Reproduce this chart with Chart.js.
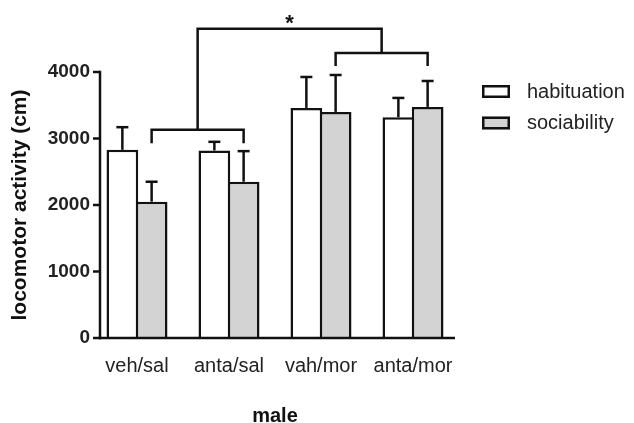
<!DOCTYPE html>
<html>
<head>
<meta charset="utf-8">
<script src="https://cdn.jsdelivr.net/npm/chart.js@4/dist/chart.umd.min.js"></script>
<style>
  html, body { margin: 0; padding: 0; background: #fff; }
  canvas { display: block; }
</style>
</head>
<body>
<canvas id="c" width="634" height="423"></canvas>
<script>
// locomotor activity, male — habituation vs sociability

const groups = ['veh/sal', 'anta/sal', 'vah/mor', 'anta/mor'];
const seriesNames = ['habituation', 'sociability'];
const habMean = [2830, 2820, 3460, 3320];
const habSem = [340, 130, 465, 290];
const socMean = [2050, 2350, 3400, 3475];
const socSem = [300, 460, 555, 390];
const yTicks = [0, 1000, 2000, 3000, 4000];

// comparison brackets, in cm (line level, end of the down ticks)
const pairLow = [3130, 2930];   // veh/sal vs anta/sal
const pairHigh = [4285, 4090];  // vah/mor vs anta/mor
const topLine = 4650;
const starLevel = 4790;

const ink = '#111';
const grey = '#d3d3d3';
Chart.defaults.font.family = "'Liberation Sans', Arial, sans-serif";
Chart.defaults.color = '#222';

// ── axes, error bars, brackets, legend ────────────────────
const decor = {
  id: 'decor',
  afterDatasetsDraw(chart) {
    const { ctx, chartArea: a, scales: { y } } = chart;
    const ax = a.left + 9, ar = a.right - 4;
    const line = (x1, y1, x2, y2) => { ctx.beginPath(); ctx.moveTo(x1, y1); ctx.lineTo(x2, y2); ctx.stroke(); };
    ctx.save();
    ctx.strokeStyle = ink;
    ctx.lineWidth = 2.5;

    // error bars (upper only)
    [[habMean, habSem], [socMean, socSem]].forEach(([means, sem], di) => {
      chart.getDatasetMeta(di).data.forEach((bar, i) => {
        const top = y.getPixelForValue(means[i] + sem[i]);
        line(bar.x, bar.y, bar.x, top);
        line(bar.x - 6, top, bar.x + 6, top);
      });
    });

    // axis lines + y tick marks
    const y0 = y.getPixelForValue(0);
    line(ax, y0 + 1.25, ax, y.getPixelForValue(yTicks[yTicks.length - 1]) - 1.25);
    line(ax - 1.25, y0, ar, y0);
    yTicks.forEach(v => { const py = y.getPixelForValue(v); line(ax - 7, py, ax, py); });

    // brackets
    const s = chart.getDatasetMeta(1).data;
    const bracket = (xa, xb, lvl, end) => {
      const py = y.getPixelForValue(lvl), pe = y.getPixelForValue(end);
      ctx.beginPath(); ctx.moveTo(xa, pe); ctx.lineTo(xa, py); ctx.lineTo(xb, py); ctx.lineTo(xb, pe); ctx.stroke();
    };
    bracket(s[0].x, s[1].x, pairLow[0], pairLow[1]);
    bracket(s[2].x, s[3].x, pairHigh[0], pairHigh[1]);
    const m1 = (s[0].x + s[1].x) / 2, m2 = (s[2].x + s[3].x) / 2;
    ctx.beginPath();
    ctx.moveTo(m1, y.getPixelForValue(pairLow[0]));
    ctx.lineTo(m1, y.getPixelForValue(topLine));
    ctx.lineTo(m2, y.getPixelForValue(topLine));
    ctx.lineTo(m2, y.getPixelForValue(pairHigh[0]));
    ctx.stroke();
    ctx.fillStyle = ink;
    ctx.font = "bold 22px 'Liberation Sans', Arial, sans-serif";
    ctx.textAlign = 'center';
    ctx.textBaseline = 'middle';
    ctx.fillText('*', (m1 + m2) / 2, y.getPixelForValue(starLevel) + 4);

    // legend
    ctx.font = "20px 'Liberation Sans', Arial, sans-serif";
    ctx.textAlign = 'left';
    chart.data.datasets.forEach((ds, i) => {
      const by = 85 + i * 31.5;
      ctx.fillStyle = ds.backgroundColor;
      ctx.fillRect(482, by, 28, 13);
      ctx.strokeRect(483.25, by + 1.25, 25.5, 10.5);
      ctx.fillStyle = '#222';
      ctx.fillText(ds.label, 527, by + 7);
    });
    ctx.restore();
  }
};

new Chart(document.getElementById('c'), {
  type: 'bar',
  data: {
    labels: groups,
    datasets: [
      { label: seriesNames[0], data: habMean, backgroundColor: '#fff', borderColor: ink, borderWidth: 2.5 },
      { label: seriesNames[1], data: socMean, backgroundColor: grey, borderColor: ink, borderWidth: 2.5 }
    ]
  },
  options: {
    responsive: false,
    animation: false,
    categoryPercentage: 0.636,
    barPercentage: 1.085,
    layout: { padding: { top: 72, right: 175, bottom: 0, left: 0 } },
    plugins: { legend: { display: false }, tooltip: { enabled: false } },
    scales: {
      x: {
        grid: { display: false, drawTicks: false },
        border: { display: false },
        ticks: { color: '#222', font: { size: 20 }, padding: 16 },
        title: { display: true, text: 'male', color: ink, font: { size: 20, weight: 'bold', lineHeight: 0.7 }, padding: 0 },
        afterFit: s => { s.height = 85; }
      },
      y: {
        min: 0, max: 4000,
        afterBuildTicks: s => { s.ticks = yTicks.map(v => ({ value: v })); },
        grid: { display: false, drawTicks: false },
        border: { display: false },
        ticks: { color: '#222', padding: 1, font: { size: 19, weight: 'bold' }, callback: v => String(v) },
        title: { display: true, text: 'locomotor activity (cm)', color: ink, font: { size: 21, weight: 'bold' }, padding: { top: 8, bottom: 0 } },
        afterFit: s => { s.width = 91; }
      }
    }
  },
  plugins: [decor]
});
</script>
</body>
</html>
